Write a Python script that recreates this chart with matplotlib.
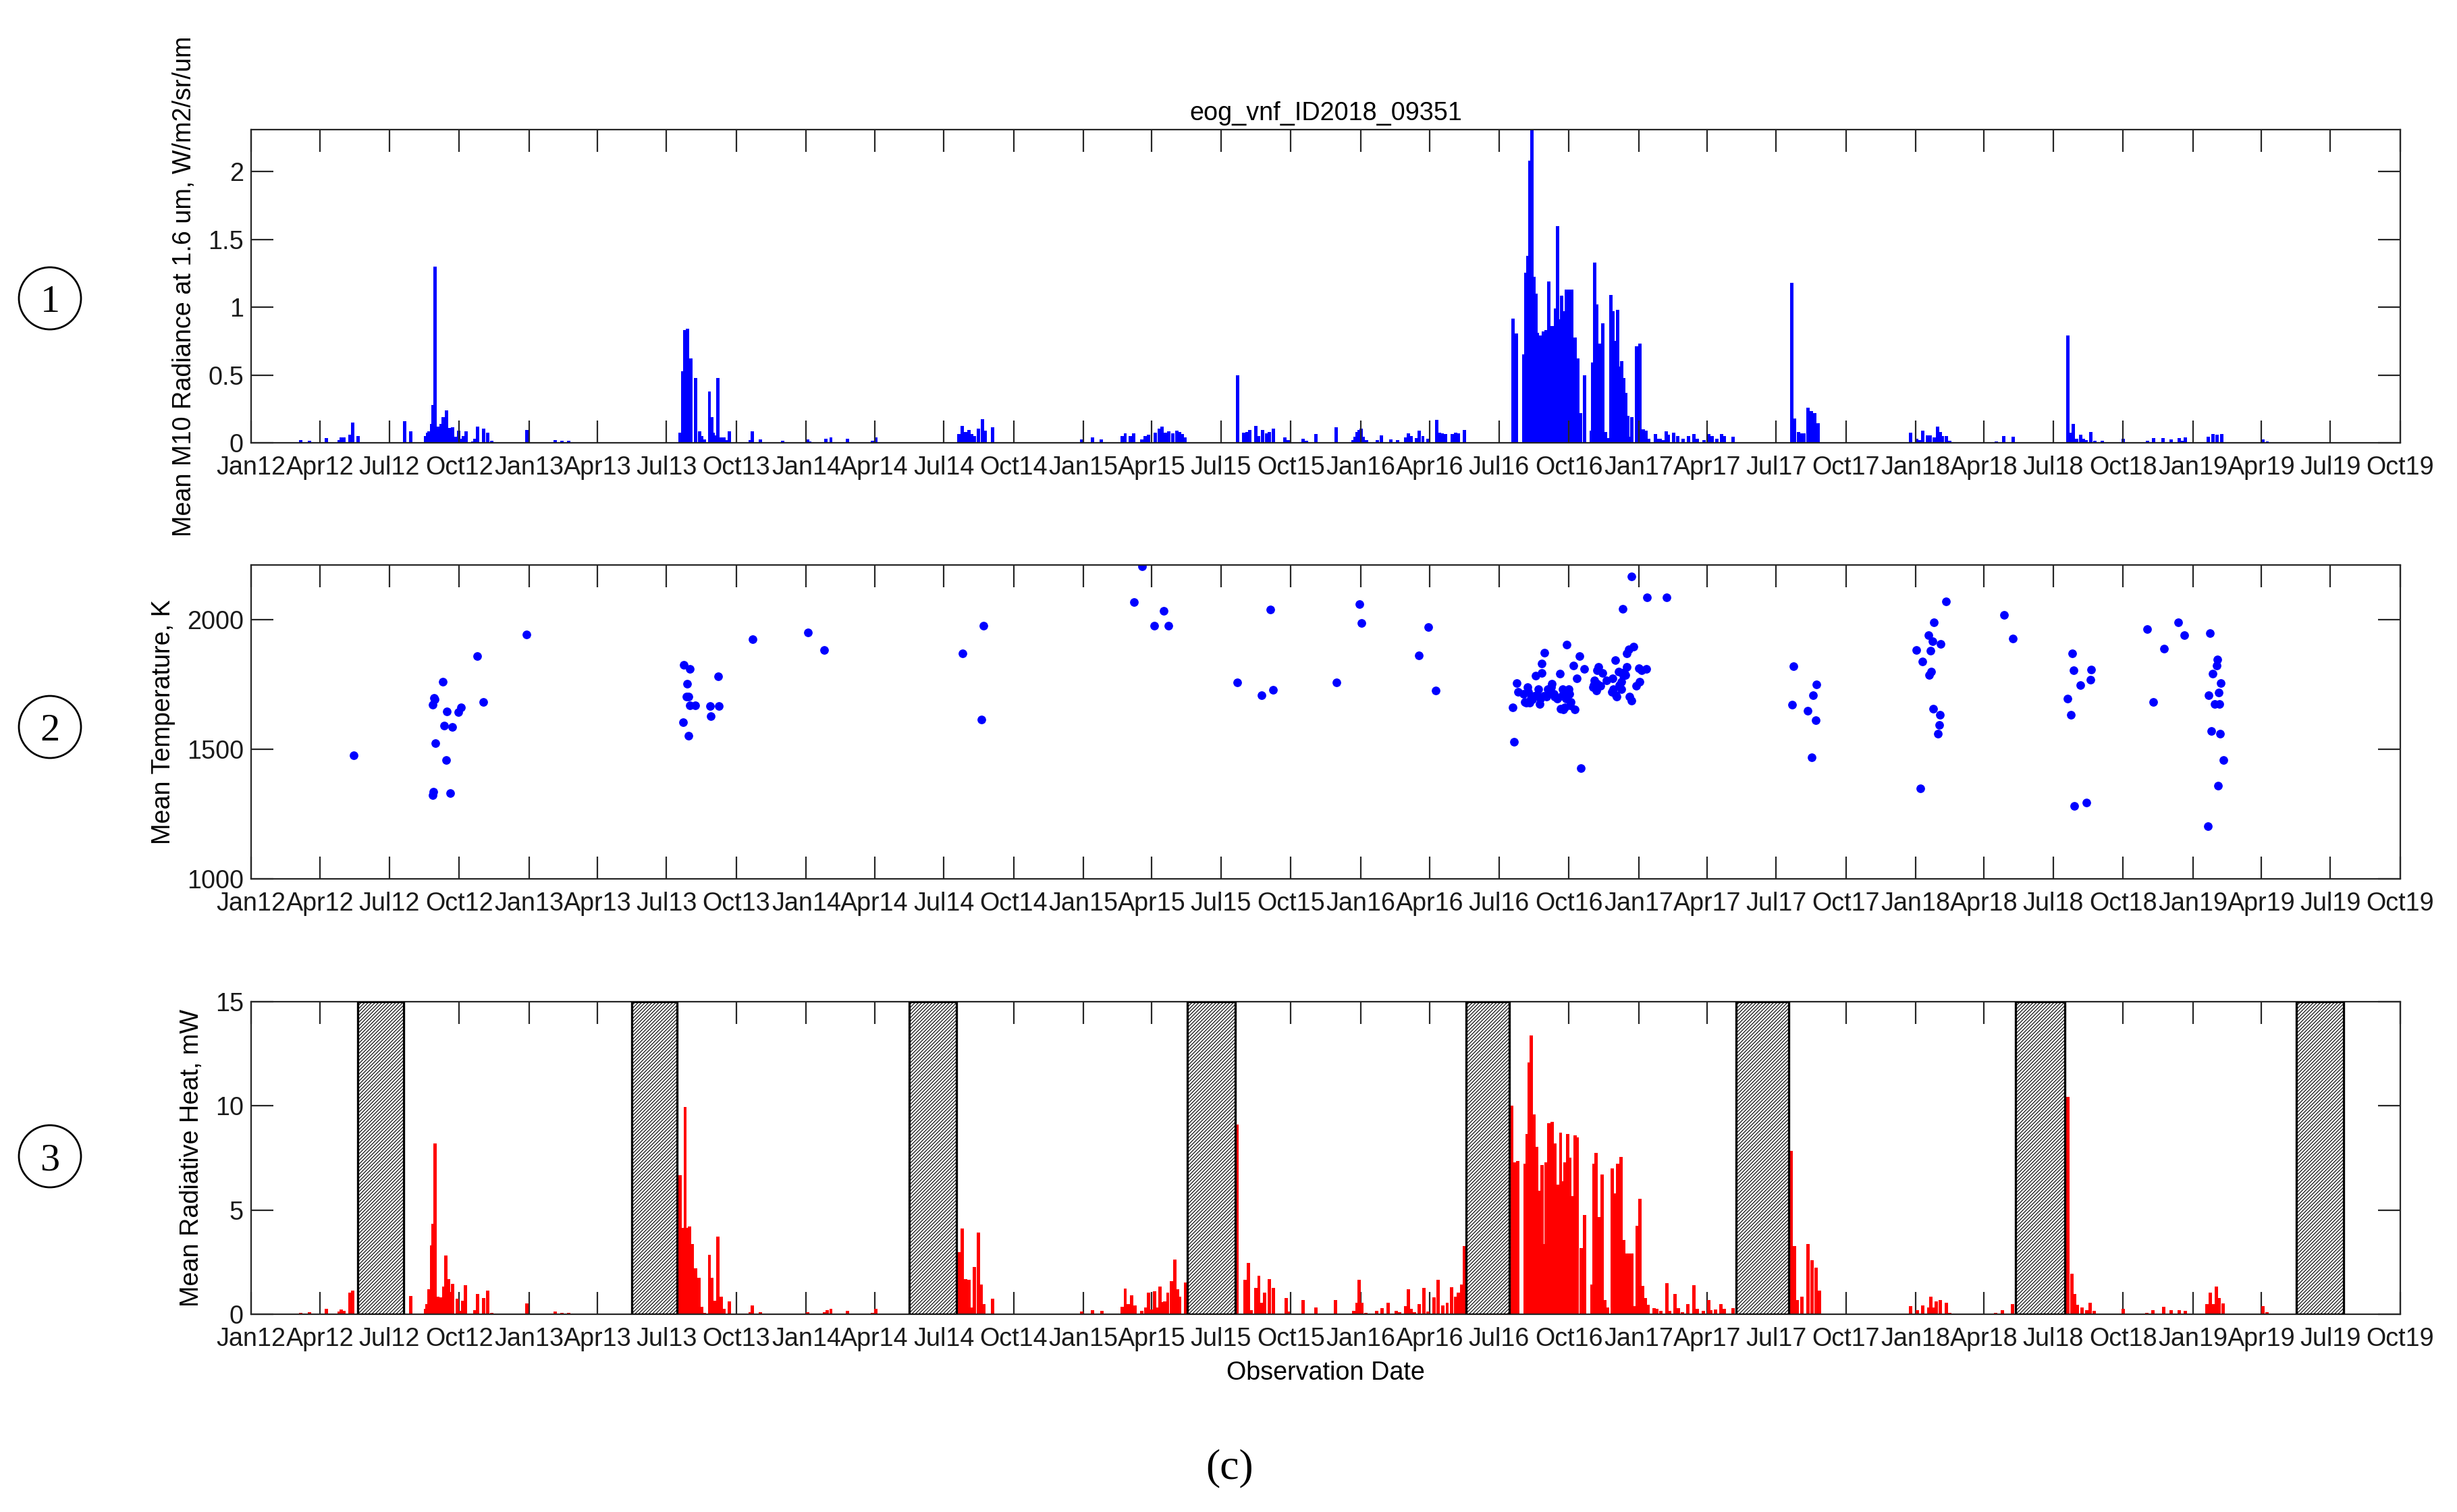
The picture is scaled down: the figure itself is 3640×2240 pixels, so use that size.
import numpy as np
import matplotlib
matplotlib.use('Agg')
import matplotlib.pyplot as plt
import matplotlib.dates as mdates
from matplotlib.patches import Rectangle, Ellipse

plt.rcParams['font.family'] = ['Liberation Sans', 'DejaVu Sans']
plt.rcParams['hatch.linewidth'] = 0.2

# ---------------- data ----------------
# observation days are counted from 1 Jan 2012
START = '2012-01-01'
END = '2019-10-01'
title = 'eog_vnf_ID2018_09351'

# panel 1: mean M10 radiance (W/m2/sr/um)
rad_day = [65, 77, 99, 116, 119, 122, 130, 134, 141, 202, 210, 229.5, 232, 234.5, 237.5, 239.5, 242,
           245.5, 250.5, 253, 257, 260.5, 265, 269, 273, 277.5, 279.5, 283.5, 292, 294.5, 298, 306,
           311.5, 317, 363, 400.5, 409, 418,
           564.5, 568, 571.3, 574.5, 579, 585.7, 590.3, 593.7, 597, 603.5, 606.5, 608.7, 611.2, 615,
           619, 622.5, 626, 629.7, 657, 660, 670.5, 700, 733, 735.6, 757, 763.5, 785.6, 818.3, 822.4,
           932, 936.5, 940.5, 945, 948.7, 952.5, 957.8, 962.8, 967, 976.7,
           1093.4, 1108, 1119.5, 1146.7, 1151, 1157.5, 1162, 1172.5, 1177, 1182, 1190.7, 1196, 1199.4,
           1203.5, 1208, 1213.5, 1218.7, 1222.4, 1226, 1229.8,
           1299, 1307, 1311.4, 1315.4, 1323, 1326.5, 1332.3, 1337.3, 1341, 1346, 1361, 1365.5, 1385,
           1389.4, 1402, 1428.6, 1451, 1454, 1456.5, 1459, 1461.5, 1464.5, 1469, 1483, 1488, 1501,
           1509.5, 1520, 1523.5, 1527.5, 1534.6, 1538, 1543, 1549.4, 1561.5, 1565, 1568.5, 1573, 1582,
           1586, 1590, 1598,
           1661.5, 1666.5, 1675.5, 1678.5, 1681.3, 1683.8, 1686.5, 1689.2, 1691.5, 1693.6, 1696, 1698.5,
           1701.3, 1705, 1709, 1712.5, 1715.5, 1718, 1720, 1723, 1726, 1729, 1732, 1735.5, 1739, 1743,
           1747, 1750.7, 1755.5, 1764.7, 1766.3, 1769.2, 1772, 1774.2, 1776.7, 1780, 1783, 1786,
           1790.5, 1793.6, 1796.4, 1799.2, 1802, 1804.6, 1807.5, 1810.5, 1813, 1815, 1818, 1824,
           1828.4, 1833, 1836.5, 1840,
           1849.6, 1852, 1855.5, 1860, 1863.6, 1866.4, 1873.5, 1878.4, 1885.3, 1892.7, 1899.9, 1904,
           1913, 1919, 1924, 1930, 1936, 1940, 1951.5,
           2028.6, 2032, 2038, 2041.5, 2045, 2050, 2054.6, 2059.3, 2063.7,
           2185, 2193, 2196.8, 2201, 2207, 2211, 2216, 2220.5, 2224.5, 2226.8, 2232, 2237,
           2298, 2308, 2320, 2392, 2395.9, 2399.7, 2403.6, 2409, 2412.7, 2416.6, 2422.5, 2427.4, 2438,
           2465.3, 2497, 2505, 2518, 2528, 2538.6, 2542.7, 2547, 2562, 2577, 2583, 2588.6, 2595,
           2649.4, 2654.9]
rad_val = [0.018, 0.015, 0.033, 0.02, 0.04, 0.04, 0.06, 0.15, 0.05, 0.16, 0.085, 0.05, 0.075, 0.085,
           0.14, 0.28, 1.30, 0.12, 0.14, 0.19, 0.24, 0.11, 0.115, 0.045, 0.09, 0.03, 0.05, 0.085, 0.01,
           0.03, 0.12, 0.105, 0.073, 0.017, 0.094, 0.02, 0.017, 0.013,
           0.073, 0.53, 0.83, 0.84, 0.62, 0.48, 0.086, 0.05, 0.025, 0.38, 0.19, 0.076, 0.055, 0.48,
           0.04, 0.04, 0.02, 0.085, 0.02, 0.083, 0.026, 0.013, 0.023, 0.01, 0.03, 0.04, 0.03, 0.013,
           0.04,
           0.063, 0.126, 0.08, 0.093, 0.063, 0.05, 0.104, 0.174, 0.09, 0.113,
           0.023, 0.04, 0.026, 0.05, 0.07, 0.05, 0.07, 0.025, 0.05, 0.06, 0.073, 0.104, 0.12, 0.073,
           0.083, 0.07, 0.088, 0.08, 0.063, 0.04,
           0.50, 0.075, 0.08, 0.093, 0.126, 0.05, 0.093, 0.07, 0.08, 0.104, 0.038, 0.02, 0.03, 0.013,
           0.063, 0.116, 0.02, 0.046, 0.08, 0.093, 0.104, 0.046, 0.02, 0.02, 0.053, 0.026, 0.02,
           0.038, 0.07, 0.05, 0.033, 0.088, 0.05, 0.03, 0.17, 0.076, 0.07, 0.066, 0.063, 0.076, 0.07,
           0.093,
           0.918, 0.807, 0.654, 1.255, 1.38, 2.08, 2.31, 1.227, 1.10, 0.81, 0.78, 0.79, 0.82, 0.83,
           1.19, 0.86, 0.86, 0.99, 1.60, 0.91, 1.085, 0.97, 1.13, 1.13, 1.13, 0.775, 0.62, 0.22, 0.5,
           0.09, 0.59, 1.33, 1.02, 0.59, 0.733, 0.88, 0.08, 0.035, 1.09, 0.97, 0.75, 0.98, 0.565, 0.60,
           0.48, 0.37, 0.2, 0.046, 0.187, 0.71, 0.733, 0.1, 0.09, 0.03,
           0.063, 0.03, 0.03, 0.02, 0.083, 0.058, 0.075, 0.05, 0.03, 0.05, 0.063, 0.03, 0.02, 0.063,
           0.05, 0.03, 0.063, 0.05, 0.046,
           1.18, 0.18, 0.08, 0.07, 0.07, 0.26, 0.233, 0.22, 0.146,
           0.075, 0.03, 0.02, 0.09, 0.055, 0.055, 0.04, 0.118, 0.08, 0.05, 0.05, 0.013,
           0.012, 0.05, 0.043, 0.79, 0.075, 0.137, 0.03, 0.058, 0.03, 0.02, 0.078, 0.013, 0.013,
           0.03, 0.015, 0.035, 0.035, 0.025, 0.035, 0.013, 0.04, 0.007, 0.043, 0.066, 0.06, 0.063,
           0.026, 0.01]

# panel 2: mean temperature (K)
temp_day = [135, 239, 240, 241, 242, 239, 243, 252, 254, 258, 257, 262, 265, 273, 276, 298, 306, 363,
            570, 578, 574, 573, 576, 578, 585, 569, 576, 604, 616, 605, 615,
            660, 733, 755, 937, 962, 964,
            1173, 1163, 1202, 1189, 1208, 1299, 1331, 1346, 1342, 1429, 1459, 1462, 1550, 1538, 1560,
            1661.5, 1663, 1666.5, 1668, 1675, 1677, 1679, 1681, 1682, 1683, 1685, 1687, 1690, 1691,
            1693, 1694.6, 1697, 1698, 1699, 1699.6, 1702, 1703.4, 1706, 1707, 1709.5, 1712, 1713, 1715,
            1716, 1720, 1723, 1724, 1726, 1727, 1727.5, 1729.5, 1731, 1732, 1733, 1735, 1736, 1737,
            1738, 1741, 1743, 1746, 1749.5, 1751, 1755, 1767, 1768, 1769, 1771, 1772, 1772.5, 1774,
            1777, 1779, 1785, 1792, 1793, 1794, 1796, 1797, 1798, 1801, 1802, 1804, 1804.5, 1806, 1807,
            1808, 1809.3, 1811, 1811.5, 1814, 1815, 1817.5, 1818, 1820.6, 1824, 1827.5, 1828, 1830.6,
            1837, 1838, 1864,
            2031, 2029, 2050, 2057, 2061, 2060, 2055,
            2193, 2201, 2198, 2209, 2216, 2214, 2225, 2211, 2212, 2210, 2215, 2224, 2223, 2221, 2232,
            2308, 2320,
            2398, 2400, 2423, 2422, 2409, 2392, 2396, 2401, 2417,
            2497, 2538, 2546, 2519, 2505, 2579,
            2589, 2588, 2583, 2594, 2591, 2578, 2586, 2592, 2581, 2593, 2597, 2590, 2577]
temp_val = [1475, 1323, 1336, 1698, 1692, 1672, 1523, 1760, 1590, 1645, 1457, 1330, 1586, 1644, 1661,
            1860, 1683, 1943,
            1825, 1810, 1751, 1703, 1703, 1670, 1669, 1604, 1551, 1666, 1666, 1627, 1781,
            1924, 1951, 1883, 1870, 1614, 1975,
            2205, 2066, 2032, 1975, 1977, 1757, 1709, 1729, 2037, 1757, 2059, 1985, 1970, 1862, 1726,
            1660, 1529, 1755, 1722, 1713, 1683, 1679, 1740, 1722, 1679, 1696, 1692, 1705, 1783,
            1709, 1731, 1675, 1696, 1830, 1793, 1705, 1872, 1703, 1731, 1726, 1740, 1752, 1714,
            1703, 1696, 1791, 1657, 1706, 1731, 1653, 1662, 1696, 1904, 1722, 1731, 1714, 1670,
            1683, 1822, 1653, 1773, 1860, 1426, 1809, 1740, 1748, 1766, 1727, 1752, 1805, 1817,
            1744, 1794, 1764, 1720, 1774, 1731, 1843, 1709, 1703, 1800, 1748, 1761, 1731, 2041, 1783,
            1796, 1787, 1817, 1869, 1886, 1703, 1686, 2165, 1895, 1744, 1813, 1761, 1805,
            1810, 2086, 2086,
            1820, 1672, 1648, 1708, 1750, 1612, 1468,
            1883, 1838, 1349, 1939, 1989, 1917, 1906, 1879, 1798, 1785, 1657, 1632, 1594, 1560, 2070,
            2018, 1927,
            1868, 1803, 1807, 1767, 1747, 1695, 1632, 1280, 1293,
            1964, 1990, 1939, 1888, 1682, 1946,
            1847, 1821, 1790, 1755, 1718, 1708, 1675, 1673, 1570, 1559, 1458, 1358, 1204]

# panel 3: mean radiative heat (mW)
heat_day = [65, 77, 99, 116, 119, 122, 130, 134, 210, 229.5, 231.7, 234.6, 237.5, 239.6, 242.3, 245.5,
            250.5, 253.3, 256.5, 259.7, 262, 265.5, 271.6, 276.3, 279, 282.5, 292, 294.5, 298, 306,
            311.5, 317, 363, 400.5, 409, 418,
            564.5, 568, 571.5, 574.5, 577.5, 581, 585.7, 590, 593.7, 597, 603.5, 606.5, 608.7, 611.2,
            615, 619, 622.5, 629.7, 657, 660, 670.5, 699, 733, 755, 759, 763.5, 785.6, 818.3, 822.4,
            932, 936.5, 941, 945.5, 949, 952.5, 957.5, 961.5, 965, 976.5,
            1093.5, 1108, 1120, 1147, 1151, 1155, 1159.4, 1164, 1173, 1178, 1182, 1186, 1190, 1194,
            1197, 1200.5, 1203, 1207, 1212, 1216.5, 1220, 1223, 1230.2,
            1298, 1309, 1313.4, 1317, 1323, 1327, 1331, 1334.7, 1341, 1346, 1363.4, 1366, 1385, 1402,
            1428, 1452, 1456, 1459, 1463, 1467.5, 1482, 1489, 1497.5, 1508, 1512.5, 1520, 1524,
            1527.7, 1531.8, 1538, 1544.5, 1549.5, 1558, 1563, 1569, 1575, 1581, 1585.8, 1590, 1594,
            1597.5,
            1660, 1664.5, 1668, 1677.5, 1680.5, 1683, 1685.5, 1689, 1692.8, 1696.5, 1700, 1702.5, 1705,
            1709, 1713, 1717, 1721, 1724.3, 1727.4, 1730.5, 1733.5, 1736.5, 1739.7, 1743.2, 1746.5,
            1751, 1756, 1766, 1768.3, 1771, 1774.8, 1779, 1782.3, 1786, 1792, 1795.7, 1799.7, 1803.8,
            1807.5, 1811, 1814.5, 1818, 1821, 1825, 1829, 1832.5, 1836, 1839.5,
            1847, 1851, 1856, 1864.5, 1868, 1875, 1879, 1885, 1892, 1900, 1904, 1912, 1919, 1922.5,
            1928.5, 1935, 1940, 1951,
            2027.8, 2032, 2036, 2042, 2050, 2055.5, 2061, 2065,
            2185, 2194, 2201.5, 2209, 2211.5, 2215, 2219, 2224, 2232, 2236.6,
            2297, 2306, 2319,
            2392.1, 2397.6, 2401.6, 2405, 2410.5, 2417, 2422, 2426.5, 2439.8,
            2465, 2496, 2504.6, 2518.5, 2528, 2538.7, 2546.5, 2562.2, 2575.7, 2579.6, 2583.5, 2587.6,
            2591.7, 2596.5, 2649.4, 2654.5]
heat_val = [0.08, 0.1, 0.27, 0.13, 0.24, 0.17, 1.05, 1.13, 0.88, 0.27, 0.5, 1.2, 3.3, 4.35, 8.19, 0.83,
            0.8, 1.34, 2.82, 1.69, 1.08, 1.47, 0.75, 0.16, 0.64, 1.4, 0.04, 0.2, 0.97, 0.78, 1.14,
            0.08, 0.52, 0.12, 0.08, 0.065,
            6.67, 4.15, 9.96, 4.15, 4.22, 3.36, 2.2, 1.75, 0.37, 0.08, 2.84, 1.75, 0.32, 0.65, 3.73,
            0.83, 0.26, 0.61, 0.1, 0.43, 0.11, 0.04, 0.1, 0.11, 0.18, 0.26, 0.16, 0.065, 0.27,
            2.98, 4.12, 1.69, 1.64, 0.34, 2.28, 3.92, 1.42, 0.5, 0.75,
            0.13, 0.18, 0.17, 0.37, 1.23, 0.47, 0.9, 0.43, 0.17, 0.34, 1.05, 0.24, 1.1, 0.34, 1.34,
            0.58, 0.62, 1.05, 1.58, 2.63, 1.2, 0.83, 1.53,
            9.1, 1.64, 2.45, 0.18, 1.26, 1.85, 0.56, 1.05, 1.69, 1.26, 0.78, 0.13, 0.69, 0.34, 0.69,
            0.15, 0.56, 1.64, 0.56, 0.08, 0.15, 0.29, 0.56, 0.15, 0.09, 0.4, 1.2, 0.27, 0.11, 0.5,
            1.26, 0.13, 0.8, 1.64, 0.43, 0.56, 1.31, 0.83, 1.05, 1.42, 3.28,
            10.02, 7.3, 7.35, 7.24, 8.64, 12.1, 13.38, 9.6, 8.05, 5.93, 7.16, 3.38, 7.3, 9.18, 9.24,
            8.19, 6.22, 8.7, 6.38, 7.3, 8.64, 7.51, 5.68, 8.59, 8.48, 3.17, 4.76, 1.42, 7.24, 7.73,
            4.65, 6.72, 0.67, 0.34, 7.0, 5.79, 7.21, 7.54, 3.56, 2.93, 2.93, 2.93, 0.4, 4.25, 5.54,
            1.37, 0.78, 0.45,
            0.29, 0.26, 0.15, 1.48, 0.15, 0.96, 0.29, 0.11, 0.5, 1.4, 0.26, 0.15, 0.67, 0.2, 0.22,
            0.5, 0.26, 0.3,
            7.83, 3.28, 0.69, 0.83, 3.38, 2.59, 2.23, 1.13,
            0.4, 0.18, 0.42, 0.34, 0.83, 0.34, 0.61, 0.67, 0.56, 0.08,
            0.065, 0.2, 0.47,
            10.44, 1.93, 0.96, 0.45, 0.34, 0.18, 0.54, 0.15, 0.04,
            0.26, 0.08, 0.18, 0.37, 0.2, 0.2, 0.15, 0.02, 0.5, 1.05, 0.5, 1.34, 0.78, 0.53, 0.4, 0.11]

# summer periods without night-time observations (hatched)
gap_start = ['2012-05-20', '2013-05-16', '2014-05-17', '2015-05-18',
             '2016-05-19', '2017-05-09', '2018-05-12', '2019-05-17']
gap_end = ['2012-07-20', '2013-07-15', '2014-07-18', '2015-07-20',
           '2016-07-15', '2017-07-18', '2018-07-16', '2019-07-18']

# ---------------- figure ----------------
W, H = 3640, 2240
fig = plt.figure(figsize=(W / 400, H / 400), dpi=400)

base = mdates.date2num(np.datetime64(START))
xmax = mdates.date2num(np.datetime64(END))
FS = 6.8
AXC = '#262626'
BW = 4.4  # bar width in days

left, width = 372 / W, (3556 - 372) / W
ax1 = fig.add_axes([left, 1 - 656 / H, width, (656 - 192) / H])
ax2 = fig.add_axes([left, 1 - 1302 / H, width, (1302 - 837) / H])
ax3 = fig.add_axes([left, 1 - 1947 / H, width, (1947 - 1484) / H])


def style(ax):
    ax.set_xlim(base, xmax)
    ax.xaxis.set_major_locator(mdates.MonthLocator(bymonth=[1, 4, 7, 10]))
    ax.xaxis.set_major_formatter(mdates.DateFormatter('%b%y'))
    ax.tick_params(direction='in', length=5.9, width=0.4, color=AXC, labelsize=FS,
                   labelcolor='#1a1a1a', top=True, right=True)
    ax.tick_params(axis='x', pad=3.5)
    ax.tick_params(axis='y', pad=2)
    for s in ax.spines.values():
        s.set_linewidth(0.4)
        s.set_color(AXC)


x1 = base + np.array(rad_day)
ax1.bar(x1, rad_val, width=BW, color='#0000ff', linewidth=0)
style(ax1)
ax1.set_ylim(0, max(rad_val))
ax1.set_yticks([0, 0.5, 1, 1.5, 2])
ax1.set_yticklabels(['0', '0.5', '1', '1.5', '2'])
ax1.set_ylabel('Mean M10 Radiance at 1.6 um, W/m2/sr/um', fontsize=FS, labelpad=3)
ax1.set_title(title, fontsize=FS, pad=2.5)

x2 = base + np.array(temp_day)
ax2.plot(x2, temp_val, 'o', color='#0000ff', markersize=2.3, markeredgewidth=0)
style(ax2)
ax2.set_ylim(1000, 2210)
ax2.set_yticks([1000, 1500, 2000])
ax2.set_ylabel('Mean Temperature, K', fontsize=FS, labelpad=3)

x3 = base + np.array(heat_day)
ax3.bar(x3, heat_val, width=BW, color='#ff0000', linewidth=0, zorder=2)
for s, e in zip(gap_start, gap_end):
    g0 = mdates.date2num(np.datetime64(s))
    g1 = mdates.date2num(np.datetime64(e))
    ax3.add_patch(Rectangle((g0, 0), g1 - g0, 15, facecolor='white', edgecolor='black',
                            hatch='/' * 26, linewidth=0.6, zorder=3))
style(ax3)
ax3.set_ylim(0, 15)
ax3.set_yticks([0, 5, 10, 15])
ax3.set_ylabel('Mean Radiative Heat, mW', fontsize=FS, labelpad=3)
ax3.set_xlabel('Observation Date', fontsize=FS, labelpad=2.5)

# circled panel numbers
for lab, cy in zip(['1', '2', '3'], [442, 1077, 1713]):
    fig.add_artist(Ellipse((74 / W, 1 - cy / H), 92 / W, 92 / H, transform=fig.transFigure,
                           fill=False, edgecolor='black', linewidth=0.5))
    fig.text(74 / W, 1 - cy / H, lab, ha='center', va='center_baseline',
             family=['Liberation Serif', 'DejaVu Serif'], fontsize=10.5)

fig.text(1822 / W, 1 - 2175 / H, '(c)', ha='center', va='center',
         family=['Liberation Serif', 'DejaVu Serif'], fontsize=11.5)

fig.savefig('out.png', dpi=400, facecolor='white')
